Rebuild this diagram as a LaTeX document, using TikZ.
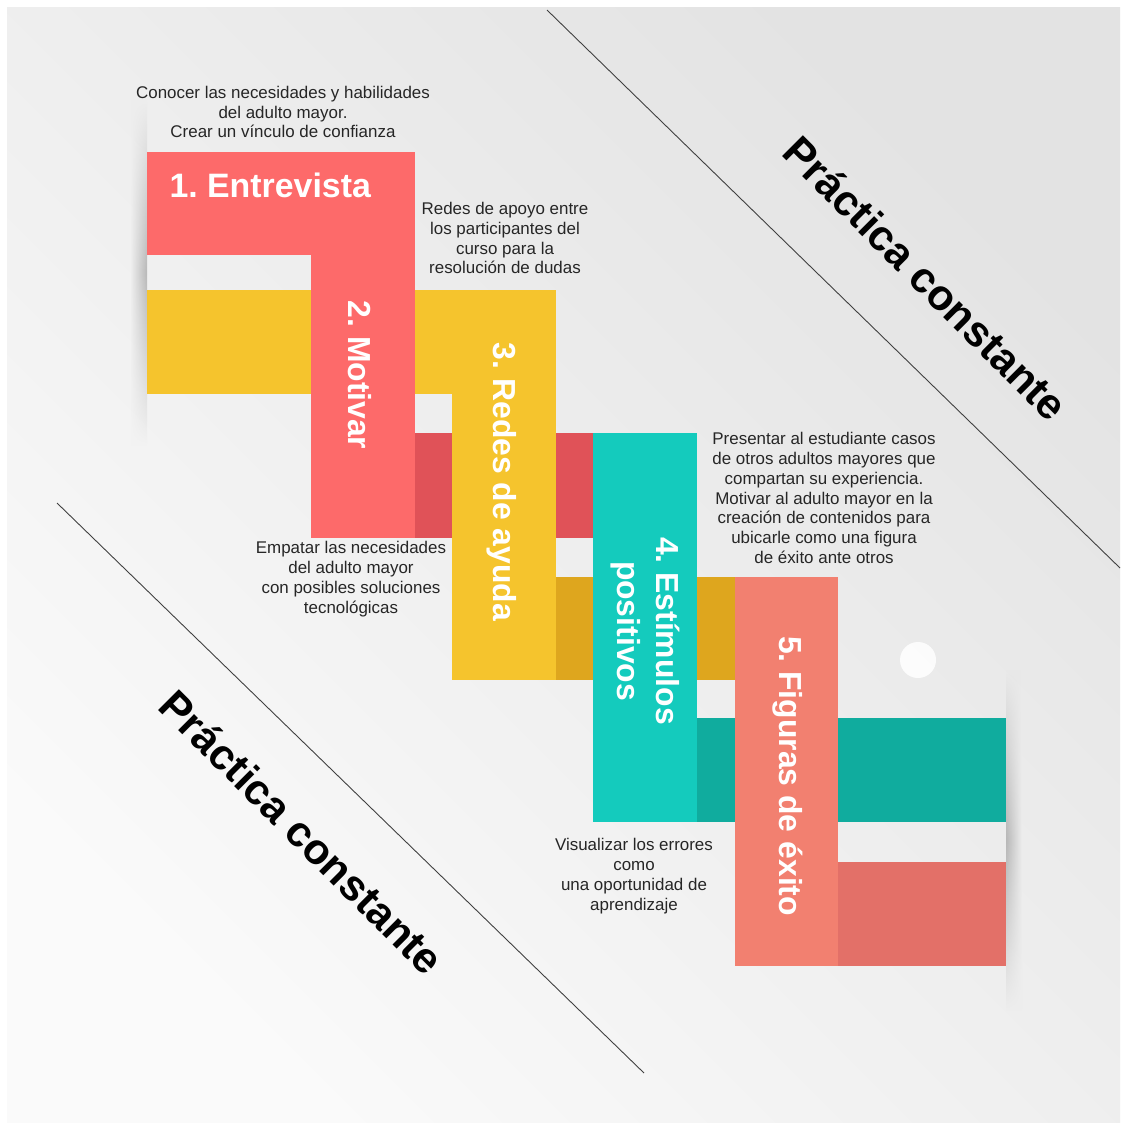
\documentclass[tikz,border=0pt]{standalone}
\usepackage{fontspec}
\setmainfont{Liberation Sans}
\usetikzlibrary{positioning,fadings}

\definecolor{coral}{RGB}{253,106,106}
\definecolor{coraldk}{RGB}{224,82,88}
\definecolor{gold}{RGB}{245,196,45}
\definecolor{golddk}{RGB}{222,166,30}
\definecolor{turq}{RGB}{20,203,189}
\definecolor{turqdk}{RGB}{16,172,158}
\definecolor{salm}{RGB}{242,128,112}
\definecolor{salmdk}{RGB}{227,112,104}

\tikzfading[name=softends, top color=transparent!100, bottom color=transparent!100, middle color=transparent!0]

\tikzset{
  note/.style={align=center, text=black!85, font=\frenchspacing\fontsize{17}{20}\selectfont},
  steplabel/.style={align=center, text=white, font=\frenchspacing\bfseries\fontsize{32}{39}\selectfont},
  practica/.style={rotate=-45, text=black, font=\bfseries\fontsize{43}{48}\selectfont}
}

\begin{document}
\begin{tikzpicture}[x=1bp, y=-1bp]
\useasboundingbox (0,0) rectangle (1125,1129);
\fill[white] (0,0) rectangle (1125,1129);
\shade[top color=black!11, bottom color=black!2, shading angle=-45] (7,7) rectangle (1120,1122);
\fill[white, opacity=.85] (918,660) circle (18);

\coordinate (la) at (547,10);
\coordinate (lb) at (1120,568);
\coordinate (lc) at (57,503);
\coordinate (ld) at (644,1073);
\draw[black!75, line width=0.9] (la) -- (lb);
\draw[black!75, line width=0.9] (lc) -- (ld);

\shade[left color=black!7, right color=black!28, path fading=softends] (131,100) rectangle (147,445);
\shade[left color=black!28, right color=black!7, path fading=softends] (1006,670) rectangle (1022,1010);

\fill[coraldk] (415,433) rectangle (593,538);
\fill[golddk] (556,577) rectangle (735,680);
\fill[turqdk] (697,718) rectangle (1006,822);
\fill[salmdk] (838,862) rectangle (1006,966);
\fill[gold] (147,290) rectangle (556,394);
\fill[coral] (147,152) rectangle (415,255);
\fill[coral] (311,152) rectangle (415,538);
\fill[gold] (452,290) rectangle (556,680);
\fill[turq] (593,433) rectangle (697,822);
\fill[salm] (735,577) rectangle (838,966);

\node[steplabel, anchor=west, font=\frenchspacing\bfseries\fontsize{34}{39}\selectfont] (e) at (166,185) {1. Entrevista};
\node[steplabel, rotate=-90] (m) at (360,375) {2. Motivar};
\node[steplabel, rotate=-90] (r) at (502,482) {3. Redes de ayuda};
\node[steplabel, rotate=-90] (p) at (645,631) {4. Estímulos\\positivos};
\node[steplabel, rotate=-90] (f) at (788,776) {5. Figuras de éxito};

\node[note] (n1) at (283,112) {Conocer las necesidades y habilidades\\del adulto mayor.\\Crear un vínculo de confianza};
\node[note] (n2) at (505,238) {Redes de apoyo entre\\los participantes del\\curso para la\\resolución de dudas};
\node[note] (n3) at (351,579) {Empatar las necesidades\\del adulto mayor\\con posibles soluciones\\tecnológicas};
\node[note] (n4) at (824,498) {Presentar al estudiante casos\\de otros adultos mayores que\\compartan su experiencia.\\Motivar al adulto mayor en la\\creación de contenidos para\\ubicarle como una figura\\de éxito ante otros};
\node[note] (n5) at (634,876) {Visualizar los errores\\como\\una oportunidad de\\aprendizaje};

\node[practica] (pc1) at (926,278) {Práctica constante};
\node[practica] (pc2) at (302,832) {Práctica constante};
\end{tikzpicture}
\end{document}
